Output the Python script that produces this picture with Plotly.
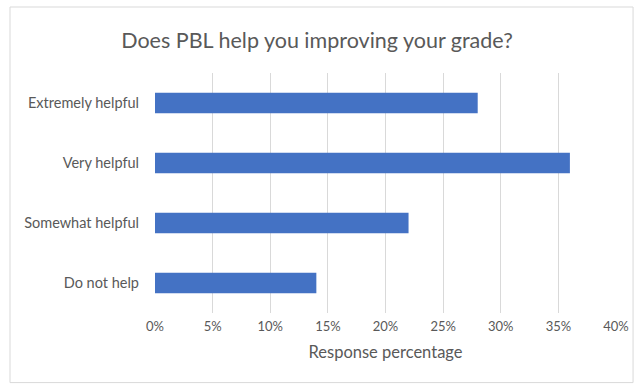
import plotly.graph_objects as go

# survey answers, top to bottom as in the chart
answers = ['Extremely helpful', 'Very helpful', 'Somewhat helpful', 'Do not help']
percent = [28, 36, 22, 14]
x_ticks = [0, 5, 10, 15, 20, 25, 30, 35, 40]
x_labels = [f'{t}%' for t in x_ticks]

grey_text = '#595959'

fig = go.Figure()

fig.add_trace(
    go.Bar(
        x=percent,
        y=answers,
        orientation='h',
        marker=dict(color='#4472C4', line=dict(width=0)),
        hovertemplate='%{y}: %{x}%<extra></extra>'
    )
)

fig.update_xaxes(
    range=[0, 40],
    tickvals=x_ticks,
    ticktext=x_labels,
    showgrid=True,
    gridcolor='#D9D9D9',
    gridwidth=1,
    zeroline=False,
    showline=False,
    ticks='',
    automargin=False,
    ticklabelstandoff=4,
    tickfont=dict(size=13, color=grey_text),
    title=dict(text='Response percentage', font=dict(size=16.5, color=grey_text), standoff=13)
)
fig.update_yaxes(
    autorange='reversed',
    showgrid=False,
    zeroline=False,
    showline=False,
    ticks='',
    automargin=False,
    ticklabelstandoff=15,
    tickfont=dict(size=14.5, color=grey_text)
)

# chart area frame
fig.add_shape(
    type='rect', xref='paper', yref='paper',
    x0=-0.3145, x1=1.037, y0=-0.29, y1=1.275,
    line=dict(color='#D9D9D9', width=1),
    fillcolor='rgba(0,0,0,0)',
    layer='below'
)

fig.update_layout(
    width=634,
    height=385,
    margin=dict(l=155, r=18, t=73, b=72),
    paper_bgcolor='#FFFFFF',
    plot_bgcolor='#FFFFFF',
    bargap=0.66,
    showlegend=False,
    font=dict(family='Lato', color=grey_text),
    title=dict(
        text='Does PBL help you improving your grade?',
        x=0.5, xanchor='center',
        y=0.895, yanchor='middle',
        font=dict(size=21.5, color=grey_text)
    )
)

fig.write_html('out.html', config={'displayModeBar': False},
               post_script="document.body.style.margin='0';")
